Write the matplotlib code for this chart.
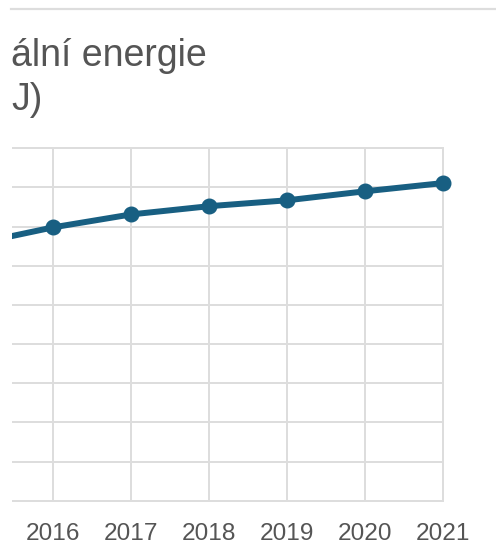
import matplotlib
matplotlib.use("Agg")
import matplotlib.pyplot as plt
from matplotlib.lines import Line2D

plt.rcParams['font.family'] = ['Liberation Sans', 'DejaVu Sans']

# data
years = [2015, 2016, 2017, 2018, 2019, 2020, 2021]
values = [656, 698, 731, 752, 767, 790, 811]
year_ticks = [2016, 2017, 2018, 2019, 2020, 2021]
y_ticks = [0, 100, 200, 300, 400, 500, 600, 700, 800, 900]

W, H = 496, 556
fig = plt.figure(figsize=(W / 100, H / 100), dpi=100)

# axes box in pixels: left 12, right 443, top 148, bottom 501
ax = fig.add_axes([12 / W, (H - 502) / H, (444 - 12) / W, (502 - 147) / H])
ax.set_xlim(2015.47, 2021.01)
ax.set_ylim(-3, 903)

ax.plot(years, values, color='#185f82', lw=4.3, solid_capstyle='butt', zorder=3)
ax.plot(years[1:], values[1:], 'o', color='#185f82', ms=10.5, clip_on=False, zorder=4)

ax.set_xticks(year_ticks)
ax.set_yticks(y_ticks)
ax.set_yticklabels([])
ax.grid(True, color='#dddddd', lw=1.4)
ax.set_axisbelow(True)
for s in ax.spines.values():
    s.set_visible(False)
ax.tick_params(length=0, labelsize=17.6, labelcolor='#555555', pad=15)

# title
fig.text(11 / W, 1 - 66 / H, 'ální energie', fontsize=27, color='#555555',
         va='baseline', ha='left')
fig.text(11 / W, 1 - 110 / H, 'J)', fontsize=27, color='#555555',
         va='baseline', ha='left')

# thin rule across the top
fig.add_artist(Line2D([11 / W, 1], [1 - 8.5 / H, 1 - 8.5 / H],
                      transform=fig.transFigure, color='#dddddd', lw=1.6))

fig.savefig('out.png', dpi=100)
